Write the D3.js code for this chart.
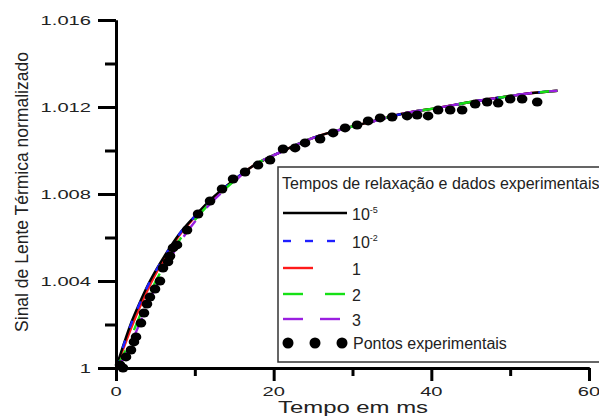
<!DOCTYPE html>
<html>
<head>
<meta charset="utf-8">
<script src="https://cdn.jsdelivr.net/npm/d3@7/dist/d3.min.js"></script>
<style>
  html, body { margin: 0; padding: 0; background: #fff; }
  svg { display: block; }
  text { font-family: "Liberation Sans", Arial, sans-serif; fill: #222; }
</style>
</head>
<body>
<svg id="chart" width="599" height="418"></svg>
<script>
// Experimental thermal-lens signal (time in ms, normalized signal)
const expTime = [0.51, 0.89, 1.27, 1.90, 2.28, 2.54, 3.17, 3.55, 3.93, 4.31, 4.95, 5.58,
  5.96, 6.60, 6.85, 7.23, 7.74, 9.01, 10.41, 11.93, 13.45, 14.85, 16.37, 18.02, 19.54,
  21.19, 22.72, 23.98, 25.89, 27.54, 29.06, 30.58, 31.98, 33.50, 35.03, 36.93, 38.20,
  39.59, 40.86, 42.39, 43.91, 45.56, 47.08, 48.48, 50.00, 51.52, 53.43];
const expSignal = [1.00014, 1.00000, 1.00051, 1.00083, 1.00120, 1.00143, 1.00207, 1.00253,
  1.00294, 1.00326, 1.00363, 1.00400, 1.00460, 1.00488, 1.00515, 1.00552, 1.00566, 1.00634,
  1.00708, 1.00768, 1.00823, 1.00869, 1.00901, 1.00933, 1.00956, 1.01007, 1.01012, 1.01035,
  1.01053, 1.01081, 1.01104, 1.01117, 1.01136, 1.01150, 1.01154, 1.01159, 1.01163, 1.01159,
  1.01186, 1.01186, 1.01186, 1.01214, 1.01223, 1.01218, 1.01237, 1.01237, 1.01223];

// Model curves for each relaxation time, sampled at fitTime
const fitTime = [0, 1, 2, 3, 4, 5, 6.5, 8, 10, 12, 15, 17, 21, 25, 29, 33, 36.5, 41, 45, 49, 52.5, 56];
const tail = [1.00920, 1.00995, 1.01058, 1.01101, 1.01138, 1.01170, 1.01197, 1.01223, 1.01245, 1.01263, 1.01275];
const fitTau1e5 = [1, 1.00112, 1.00215, 1.00300, 1.00378, 1.00445, 1.00535, 1.00615, 1.00698, 1.00774, 1.00866, ...tail];
const fitTau1e2 = [1, 1.00108, 1.00210, 1.00296, 1.00375, 1.00443, 1.00533, 1.00614, 1.00697, 1.00773, 1.00865, ...tail];
const fitTau1 = [1, 1.00095, 1.00190, 1.00278, 1.00358, 1.00430, 1.00525, 1.00608, 1.00694, 1.00771, 1.00864, ...tail];
const fitTau2 = [1, 1.00065, 1.00150, 1.00238, 1.00320, 1.00396, 1.00495, 1.00585, 1.00680, 1.00762, 1.00860, ...tail];
const fitTau3 = [1, 1.00045, 1.00120, 1.00205, 1.00290, 1.00370, 1.00478, 1.00572, 1.00672, 1.00757, 1.00857, ...tail];

const xMajorTicks = [0, 20, 40, 60];
const xMinorTicks = [10, 30, 50];
const yMajorTicks = [1, 1.004, 1.008, 1.012, 1.016];
const yMinorTicks = [1.002, 1.006, 1.010, 1.014];
const yTickLabels = ["1", "1.004", "1.008", "1.012", "1.016"];

const series = [
  { name: "10", sup: "-5", values: fitTau1e5, color: "#000000", dash: null, sample: [[0, 64]] },
  { name: "10", sup: "-2", values: fitTau1e2, color: "#1f1fff", dash: "8,13", sample: [[0, 8], [22, 30], [44, 52]] },
  { name: "1", sup: null, values: fitTau1, color: "#ff1a1a", dash: null, sample: [[0, 30]] },
  { name: "2", sup: null, values: fitTau2, color: "#16e016", dash: "20,22", sample: [[0, 20], [42, 62]] },
  { name: "3", sup: null, values: fitTau3, color: "#9a1fe0", dash: "20,17", sample: [[0, 20], [37, 57]] }
];

const svg = d3.select("#chart");
const x = d3.scaleLinear().domain([0, 60]).range([116, 589]);
const y = d3.scaleLinear().domain([1, 1.016]).range([368, 20]);

// Model curves
const line = d3.line().curve(d3.curveMonotoneX);
const drawOrder = [2, 0, 1, 3, 4];
drawOrder.forEach(i => {
  const s = series[i];
  svg.append("path")
    .attr("d", line(fitTime.map((t, k) => [x(t), y(s.values[k])])))
    .attr("fill", "none")
    .attr("stroke", s.color)
    .attr("stroke-width", 2.4)
    .attr("stroke-dasharray", s.dash);
});

// Experimental points
svg.append("g").selectAll("ellipse")
  .data(expTime.map((t, i) => [t, expSignal[i]]))
  .join("ellipse")
  .attr("cx", d => x(d[0]))
  .attr("cy", d => y(d[1]))
  .attr("rx", 5.3)
  .attr("ry", 4.5)
  .attr("fill", "#000");

// Axes
function styleAxis(g) {
  g.selectAll("path, line").attr("stroke", "#000").attr("stroke-width", 3);
  g.selectAll("text").remove();
}
svg.append("g").attr("transform", "translate(0,368)")
  .call(d3.axisBottom(x).tickValues(xMinorTicks).tickSize(8).tickSizeOuter(0)).call(styleAxis);
svg.append("g").attr("transform", "translate(0,368)")
  .call(d3.axisBottom(x).tickValues(xMajorTicks).tickSize(13).tickSizeOuter(0)).call(styleAxis);
svg.append("g").attr("transform", "translate(116,0)")
  .call(d3.axisLeft(y).tickValues(yMinorTicks).tickSize(11).tickSizeOuter(0)).call(styleAxis);
svg.append("g").attr("transform", "translate(116,0)")
  .call(d3.axisLeft(y).tickValues(yMajorTicks).tickSize(18).tickSizeOuter(0)).call(styleAxis);

// Tick labels
svg.append("g").selectAll("text")
  .data(xMajorTicks)
  .join("text")
  .attr("transform", d => `translate(${x(d)},396) scale(1.55,1)`)
  .attr("text-anchor", "middle")
  .attr("font-size", 13)
  .attr("fill", "#333")
  .text(d => d);
svg.append("g").selectAll("text")
  .data(yMajorTicks)
  .join("text")
  .attr("transform", d => `translate(91,${y(d) + 4.5}) scale(1.55,1)`)
  .attr("text-anchor", "end")
  .attr("font-size", 13)
  .attr("fill", "#333")
  .text((d, i) => yTickLabels[i]);

// Axis titles
svg.append("text")
  .attr("x", 353).attr("y", 413)
  .attr("text-anchor", "middle")
  .attr("font-size", 17)
  .attr("textLength", 150)
  .attr("lengthAdjust", "spacingAndGlyphs")
  .attr("fill", "#333")
  .text("Tempo em ms");
svg.append("text")
  .attr("transform", "translate(28,192) rotate(-90)")
  .attr("text-anchor", "middle")
  .attr("font-size", 17.5)
  .attr("fill", "#333")
  .text("Sinal de Lente Térmica normalizado");

// Legend
const legend = svg.append("g");
legend.append("rect")
  .attr("x", 278).attr("y", 167)
  .attr("width", 340).attr("height", 195)
  .attr("fill", "#fff")
  .attr("stroke", "#333")
  .attr("stroke-width", 1.5);
legend.append("text")
  .attr("x", 282).attr("y", 189)
  .attr("font-size", 16)
  .text("Tempos de relaxação e dados experimentais");

const rowY = [213, 241, 268, 294, 319, 343];
series.forEach((s, i) => {
  const ry = rowY[i];
  s.sample.forEach(([a, b]) => {
    legend.append("line")
      .attr("x1", 283 + a).attr("x2", 283 + b)
      .attr("y1", ry).attr("y2", ry)
      .attr("stroke", s.color)
      .attr("stroke-width", 2.4);
  });
  const t = legend.append("text")
    .attr("x", 352).attr("y", ry + 7)
    .attr("font-size", 16);
  t.append("tspan").text(s.name);
  if (s.sup) {
    t.append("tspan").attr("dy", -7).attr("font-size", 9).text(s.sup);
  }
});
[288, 315, 342].forEach(cx => {
  legend.append("circle")
    .attr("cx", cx).attr("cy", rowY[5])
    .attr("r", 5.5)
    .attr("fill", "#000");
});
legend.append("text")
  .attr("x", 353).attr("y", rowY[5] + 6)
  .attr("font-size", 16)
  .text("Pontos experimentais");
</script>
</body>
</html>
